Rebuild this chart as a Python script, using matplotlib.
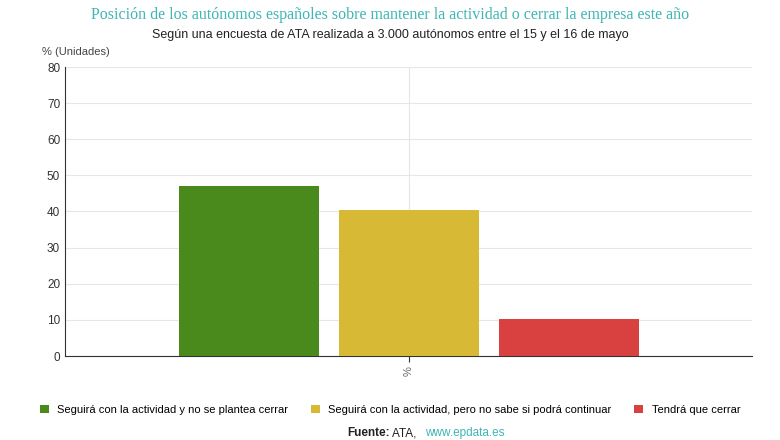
import numpy as np
import matplotlib.pyplot as plt

categories = ['Seguirá con la actividad y no se plantea cerrar',
              'Seguirá con la actividad, pero no sabe si podrá continuar',
              'Tendrá que cerrar']
values = [47.0, 40.5, 10.3]
colors = ['#4a8a1c', '#d8b935', '#d94040']

plt.rcParams['font.family'] = ['Liberation Sans', 'DejaVu Sans']

fig = plt.figure(figsize=(7.8, 4.4), dpi=100)
ax = fig.add_axes([65 / 780, 1 - 356 / 440, (752 - 65) / 780, (356 - 67) / 440])

width = 140 / 687
offsets = np.array([-1, 0, 1]) * (160 / 687)
for off, v, c, lab in zip(offsets, values, colors, categories):
    ax.bar(off, v, width=width, color=c, label=lab, zorder=3)

ax.set_xlim(-0.5, 0.5)
ax.set_ylim(0, 80)
ax.set_yticks(range(0, 81, 10))
ax.set_xticks([0])
ax.set_xticklabels(['%'], rotation=90, color='#666666', fontsize=8)
ax.tick_params(axis='y', labelsize=8.5, colors='#333333', length=0)
ax.tick_params(axis='x', length=4, color='#333333')
ax.grid(True, color='#e6e6e6', linewidth=0.8, zorder=0)
for s in ['top', 'right']:
    ax.spines[s].set_visible(False)
ax.spines['left'].set_color('#333333')
ax.spines['bottom'].set_color('#333333')

fig.text(0.5, 0.985, 'Posición de los autónomos españoles sobre mantener la actividad o cerrar la empresa este año',
         ha='center', va='top', color='#3fb5b5', fontsize=11.5, family='Liberation Serif')
fig.text(0.5, 0.935, 'Según una encuesta de ATA realizada a 3.000 autónomos entre el 15 y el 16 de mayo',
         ha='center', va='top', color='#222222', fontsize=9)
fig.text(42 / 780, 1 - 52 / 440, '% (Unidades)', ha='left', va='center', color='#444444', fontsize=8)

fig.legend(loc='center', bbox_to_anchor=(0.5, 1 - 410 / 440), ncol=3, frameon=False,
           fontsize=8, handlelength=0.8, handleheight=0.8, columnspacing=2.0)

fig.text(0.5, 1 - 433 / 440, 'Fuente:', ha='right', va='center', fontsize=8.5, weight='bold', color='#222222')
fig.text(0.503, 1 - 433 / 440, 'ATA, ', ha='left', va='center', fontsize=8.5, color='#222222')
fig.text(0.545, 1 - 433 / 440, 'www.epdata.es', ha='left', va='center', fontsize=8.5, color='#3fb5b5')

fig.savefig('out.png', dpi=100)
